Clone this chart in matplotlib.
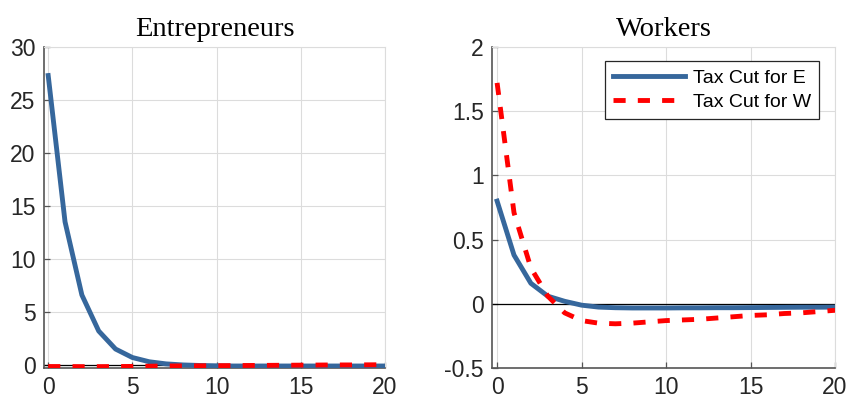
import numpy as np
import matplotlib.pyplot as plt

# Impulse responses, periods 0..20
periods = np.arange(21)

# Entrepreneurs panel
ent_tax_e = [27.3, 13.5, 6.6, 3.2, 1.5, 0.7, 0.3, 0.1, 0.0, -0.05, -0.08, -0.1, -0.1,
             -0.1, -0.1, -0.1, -0.1, -0.1, -0.1, -0.1, -0.1]
ent_tax_w = [-0.15, -0.15, -0.16, -0.16, -0.15, -0.14, -0.12, -0.1, -0.09, -0.08, -0.07,
             -0.06, -0.05, -0.04, -0.03, -0.02, -0.01, 0.0, 0.0, 0.01, 0.02]

# Workers panel
wrk_tax_e = [0.80, 0.38, 0.16, 0.06, 0.02, -0.01, -0.025, -0.03, -0.032, -0.032, -0.032,
             -0.031, -0.031, -0.030, -0.030, -0.029, -0.028, -0.027, -0.026, -0.026, -0.025]
wrk_tax_w = [1.72, 0.71, 0.28, 0.06, -0.07, -0.13, -0.15, -0.155, -0.15, -0.14, -0.13,
             -0.125, -0.12, -0.11, -0.10, -0.09, -0.085, -0.075, -0.07, -0.06, -0.05]

BLUE = '#36679C'
RED = '#FF0000'
TICK_COLOR = '#262626'
SPINE_COLOR = '#555555'

plt.rcParams['font.family'] = ['Liberation Sans', 'DejaVu Sans']

fig = plt.figure(figsize=(8.46, 4.01), dpi=100)
ax1 = fig.add_axes([0.052, 0.082, 0.403, 0.801])
ax2 = fig.add_axes([0.5816, 0.082, 0.4054, 0.801])


def style_axes(ax, title):
    ax.grid(True, color='#dcdcdc', linewidth=0.8)
    ax.set_axisbelow(True)
    ax.axhline(0, color='black', linewidth=0.9, zorder=1.5)
    for side in ['left', 'bottom']:
        ax.spines[side].set_color(SPINE_COLOR)
        ax.spines[side].set_linewidth(1.2)
    for side in ['top', 'right']:
        ax.spines[side].set_color('#dcdcdc')
        ax.spines[side].set_linewidth(0.8)
    ax.tick_params(direction='in', length=4, width=0.9, color=SPINE_COLOR,
                   labelcolor=TICK_COLOR, labelsize=16.5, top=False, right=False)
    ax.tick_params(axis='x', pad=6)
    ax.tick_params(axis='y', pad=6)
    ax.set_title(title, fontsize=20.5, family='Liberation Serif', pad=8)
    ax.set_xticks([0, 5, 10, 15, 20])


ax1.plot(periods, ent_tax_e, color=BLUE, linewidth=3.5, label='Tax Cut for E', zorder=3)
ax1.plot(periods, ent_tax_w, color=RED, linewidth=3.5, dashes=(2.5, 2.5),
         label='Tax Cut for W', zorder=3)
ax1.set_xlim(-0.25, 20)
ax1.set_ylim(-0.3, 30)
ax1.set_yticks([0, 5, 10, 15, 20, 25, 30])
style_axes(ax1, 'Entrepreneurs')

ax2.plot(periods, wrk_tax_e, color=BLUE, linewidth=3.5, label='Tax Cut for E', zorder=3)
ax2.plot(periods, wrk_tax_w, color=RED, linewidth=3.5, dashes=(2.5, 2.5),
         label='Tax Cut for W', zorder=3)
ax2.set_xlim(-0.3, 20)
ax2.set_ylim(-0.5, 2)
ax2.set_yticks([-0.5, 0, 0.5, 1, 1.5, 2])
ax2.set_yticklabels(['-0.5', '0', '0.5', '1', '1.5', '2'])
style_axes(ax2, 'Workers')

leg = ax2.legend(loc='upper right', bbox_to_anchor=(0.952, 0.955), fontsize=14,
                 handlelength=3.7, fancybox=False, framealpha=1, borderpad=0.4,
                 labelspacing=0.35, handletextpad=0.4, borderaxespad=0)
leg.get_frame().set_edgecolor('#262626')
leg.get_frame().set_linewidth(0.9)

fig.savefig('out.png', dpi=100)
